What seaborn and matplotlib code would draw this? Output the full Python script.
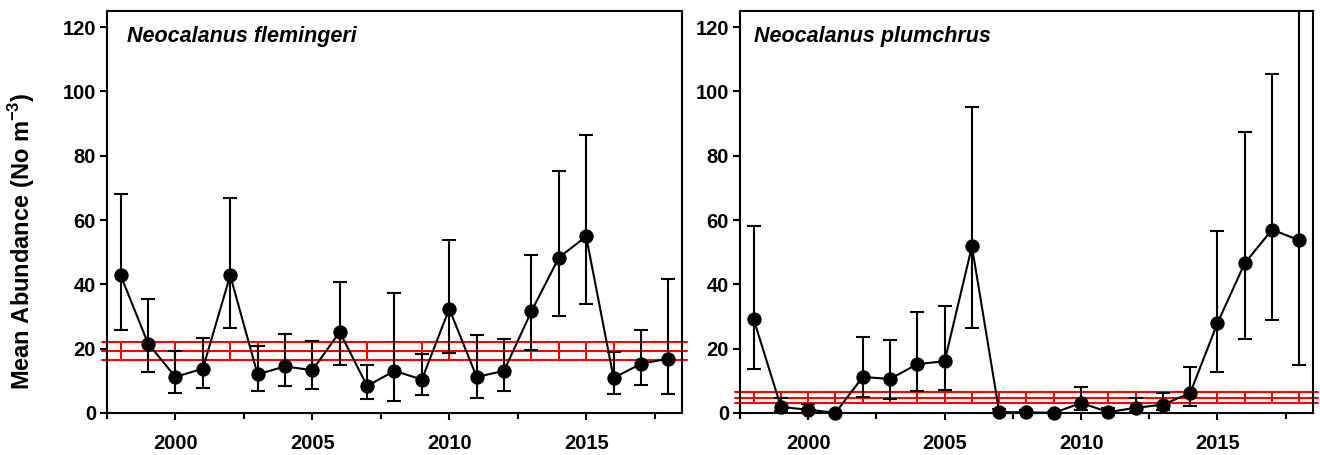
import numpy as np
import pandas as pd
import matplotlib
matplotlib.use("Agg")
import matplotlib.pyplot as plt
import seaborn as sns
from matplotlib.ticker import FixedLocator

# Survey years
years = list(range(1998, 2019))

# Neocalanus flemingeri: annual mean abundance with lower / upper confidence limits
flem_mean = [42.8, 21.6, 11.2, 13.8, 42.8, 12.0, 14.5, 13.3, 25.2, 8.4, 13.1,
             10.4, 32.4, 11.2, 13.1, 31.6, 48.3, 54.9, 10.9, 15.3, 16.9]
flem_lower = [25.9, 12.7, 6.2, 7.9, 26.4, 6.7, 8.3, 7.6, 14.8, 4.5, 3.7,
              5.7, 18.8, 4.7, 6.8, 19.7, 30.1, 33.8, 6.0, 8.6, 6.0]
flem_upper = [68.2, 35.3, 19.2, 23.4, 66.8, 20.7, 24.5, 22.4, 40.7, 15.0, 37.3,
              18.4, 53.9, 24.4, 23.1, 49.0, 75.2, 86.3, 19.0, 25.7, 41.8]
# long-term mean and its lower / upper limits
flem_ref = [19.3, 16.6, 22.1]

# Neocalanus plumchrus
plum_mean = [29.2, 1.9, 1.0, 0.1, 11.2, 10.6, 15.2, 16.1, 51.8, 0.3, 0.2,
             0.05, 3.1, 0.3, 1.6, 2.6, 6.2, 28.0, 46.6, 57.0, 53.7]
plum_lower = [13.7, 0.5, 0.2, 0.0, 4.9, 4.5, 6.7, 7.3, 26.4, 0.0, 0.0,
              0.0, 0.8, 0.0, 0.2, 0.8, 2.3, 12.6, 23.1, 29.0, 14.8]
plum_upper = [58.2, 4.7, 2.9, 0.3, 23.6, 22.8, 31.4, 33.4, 95.1, 1.2, 0.8,
              0.2, 8.1, 1.6, 4.7, 6.2, 14.3, 56.5, 87.4, 105.5, 185.0]
plum_ref = [4.8, 3.1, 6.4]

titles = ["Neocalanus flemingeri", "Neocalanus plumchrus"]
y_ticks = [0, 20, 40, 60, 80, 100, 120]
x_major = [2000, 2005, 2010, 2015]
x_minor = [1997.5, 2002.5, 2007.5, 2012.5, 2017.5]

sns.set_style("ticks")
plt.rcParams["font.family"] = ["Liberation Sans", "DejaVu Sans"]
plt.rcParams["mathtext.fontset"] = "custom"
plt.rcParams["mathtext.rm"] = "Liberation Sans"
plt.rcParams["mathtext.bf"] = "Liberation Sans:bold"
for key in ("text.color", "axes.labelcolor", "xtick.color", "ytick.color",
            "axes.edgecolor"):
    plt.rcParams[key] = "black"

fig = plt.figure(figsize=(13.2, 4.55), dpi=100)
ax_l = fig.add_axes([107 / 1320, 1 - 413 / 455, 575 / 1320, 402 / 455])
ax_r = fig.add_axes([740 / 1320, 1 - 413 / 455, 573 / 1320, 402 / 455])

LW = 1.5


def panel(ax, mean, lower, upper, ref, title, title_x):
    ref_mean, ref_lo, ref_hi = ref
    # reference band: mean and limits as red lines, joined at every year
    for v in (ref_lo, ref_mean, ref_hi):
        ax.plot([1997.3, 2018.7], [v, v], color="#ff0000", lw=LW,
                clip_on=False, zorder=1)
    ax.vlines(years, ref_lo, ref_hi, color="#ff0000", lw=LW, zorder=1)

    m = np.array(mean)
    err = [m - np.array(lower), np.array(upper) - m]
    ax.errorbar(years, m, yerr=err, fmt="none", ecolor="black",
                elinewidth=LW, capsize=5, capthick=LW, zorder=2)

    df = pd.DataFrame({"year": years, "abundance": mean})
    sns.lineplot(data=df, x="year", y="abundance", ax=ax, color="black",
                 lw=LW, marker="o", markersize=9.5, markeredgecolor="black",
                 markeredgewidth=0.8, zorder=3, clip_on=False)

    ax.set_xlim(1997.5, 2018.5)
    ax.set_ylim(0, 125)
    ax.xaxis.set_major_locator(FixedLocator(x_major))
    ax.xaxis.set_minor_locator(FixedLocator(x_minor))
    ax.yaxis.set_major_locator(FixedLocator(y_ticks))
    ax.set_xlabel("")
    ax.set_ylabel("")
    ax.tick_params(axis="both", which="major", direction="out", length=5,
                   width=LW, labelsize=14.5, colors="black")
    ax.tick_params(axis="x", which="major", pad=10)
    ax.tick_params(axis="y", which="major", pad=3)
    ax.tick_params(axis="x", which="minor", direction="out", length=4,
                   width=LW, colors="black")
    for lab in ax.get_xticklabels() + ax.get_yticklabels():
        lab.set_fontweight("bold")
    for s in ax.spines.values():
        s.set_visible(True)
        s.set_linewidth(LW)
        s.set_color("black")
    ax.text(title_x, 0.963, title, transform=ax.transAxes, ha="left",
            va="top", fontsize=15.5, fontweight="bold", fontstyle="italic",
            color="black")


panel(ax_l, flem_mean, flem_lower, flem_upper, flem_ref, titles[0], 0.034)
panel(ax_r, plum_mean, plum_lower, plum_upper, plum_ref, titles[1], 0.024)

fig.text(22 / 1320, 1 - 241 / 455, r"Mean Abundance (No m$^{\mathbf{-3}}$)",
         rotation=90, ha="center", va="center", fontsize=17,
         fontweight="bold", color="black")

fig.savefig("out.png", dpi=100)
